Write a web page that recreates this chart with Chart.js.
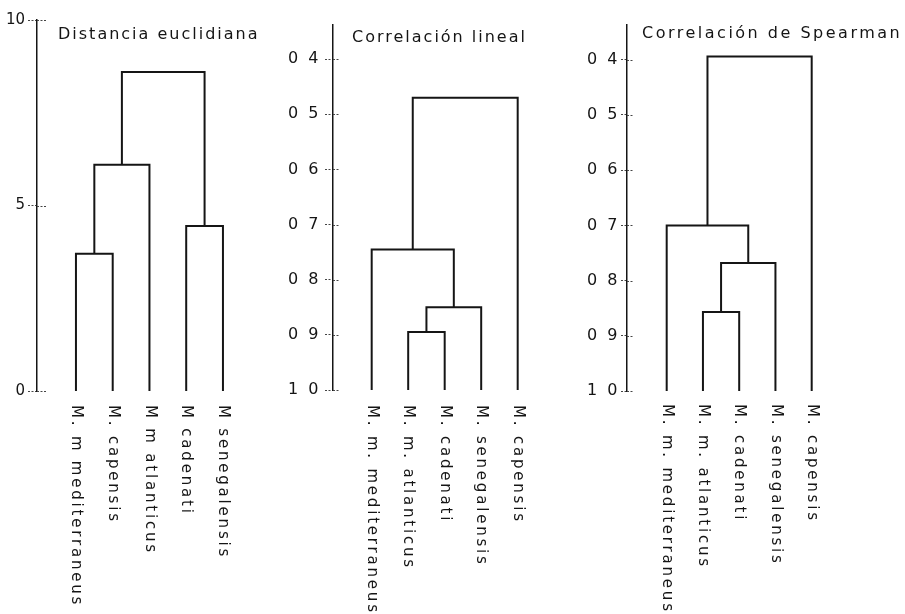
<!DOCTYPE html>
<html><head><meta charset="utf-8">
<script src="https://cdn.jsdelivr.net/npm/chart.js@4"></script>
<style>
html,body{margin:0;padding:0;background:#fff;}
#wrap{position:relative;width:905px;height:614px;overflow:hidden;background:#fff;}
#wrap canvas{position:absolute;left:0;top:0;}
</style></head><body>
<div id="wrap">
<canvas id="c1" width="905" height="614"></canvas>
<canvas id="c2" width="905" height="614"></canvas>
<canvas id="c3" width="905" height="614"></canvas>
</div>
<script>
// ---------------- data ----------------
const euclidTitle = "Distancia euclidiana";
const euclidLeaves = ["M. m mediterraneus", "M. capensis", "M m atlanticus", "M cadenati", "M senegalensis"];
const euclidMergeA = [0, 5, 3, 6];
const euclidMergeB = [1, 2, 4, 7];
const euclidHeights = [3.7, 6.1, 4.45, 8.6];
const euclidTickValues = [0, 5, 10];
const euclidTickLabels = ["0", "5", "10"];

const linealTitle = "Correlación lineal";
const linealLeaves = ["M. m. mediterraneus", "M. m. atlanticus", "M. cadenati", "M. senegalensis", "M. capensis"];
const linealMergeA = [1, 5, 0, 7];
const linealMergeB = [2, 3, 6, 4];
const linealHeights = [0.895, 0.85, 0.745, 0.47];

const spearmanTitle = "Correlación de Spearman";
const spearmanLeaves = ["M. m. mediterraneus", "M. m. atlanticus", "M. cadenati", "M. senegalensis", "M. capensis"];
const spearmanMergeA = [1, 5, 0, 7];
const spearmanMergeB = [2, 3, 6, 4];
const spearmanHeights = [0.857, 0.768, 0.70, 0.394];

const corrTickValues = [0.4, 0.5, 0.6, 0.7, 0.8, 0.9, 1.0];
const corrTickLabels = ["0 4", "0 5", "0 6", "0 7", "0 8", "0 9", "1 0"];

// ---------------- drawing ----------------
const INK = '#151515';
const FONT = "'DejaVu Sans', sans-serif";

function dendroDatasets(nLeaves, A, B, H, base) {
  const xs = [], hs = [];
  for (let i = 0; i < nLeaves; i++) { xs.push(i); hs.push(base); }
  const ds = [];
  for (let k = 0; k < A.length; k++) {
    const a = A[k], b = B[k], h = H[k];
    ds.push({
      data: [{x: xs[a], y: hs[a]}, {x: xs[a], y: h}, {x: xs[b], y: h}, {x: xs[b], y: hs[b]}],
      borderColor: INK, borderWidth: 2, pointRadius: 0, fill: false, tension: 0,
      borderCapStyle: 'butt', borderJoinStyle: 'miter'
    });
    xs.push((xs[a] + xs[b]) / 2); hs.push(h);
  }
  return ds;
}

const dendroPlugin = {
  id: 'dendro',
  beforeDraw(chart, args, o) {
    chart.ctx.letterSpacing = o.tickSpacing;
  },
  afterDraw(chart, args, o) {
    const ctx = chart.ctx, xs = chart.scales.x, ys = chart.scales.y;
    const ax = chart.chartArea.left;
    ctx.save();
    // right-hand part of the tick marks (they cross the axis)
    ctx.strokeStyle = '#444'; ctx.lineWidth = 1;
    ctx.setLineDash([2, 1.5]);
    ys.ticks.forEach(t => {
      const py = Math.round(ys.getPixelForValue(t.value)) + 0.5;
      ctx.beginPath(); ctx.moveTo(ax, py); ctx.lineTo(ax + o.tickRight, py); ctx.stroke();
    });
    ctx.setLineDash([]);
    // title
    ctx.fillStyle = INK;
    ctx.letterSpacing = o.titleSpacing;
    ctx.font = o.titleSize + 'px ' + FONT;
    ctx.textAlign = 'left'; ctx.textBaseline = 'middle';
    ctx.fillText(o.title, ax + o.titleDx, o.titleY);
    // leaf labels, rotated clockwise (reading downwards)
    ctx.letterSpacing = o.labelSpacing;
    ctx.font = o.labelSize + 'px ' + FONT;
    o.leaves.forEach((lab, i) => {
      const px = xs.getPixelForValue(i);
      ctx.save();
      ctx.translate(px, o.labelY);
      ctx.rotate(Math.PI / 2);
      ctx.fillText(lab, 0, 0);
      ctx.restore();
    });
    ctx.restore();
  }
};

function makeChart(id, p) {
  const right = p.axisX + (p.xmax - p.xmin) * p.sp;
  return new Chart(document.getElementById(id), {
    type: 'line',
    data: { datasets: dendroDatasets(p.leaves.length, p.A, p.B, p.H, p.base) },
    options: {
      responsive: false, animation: false, events: [],
      layout: { autoPadding: false, padding: { left: p.axisX - p.yw, right: 905 - right, top: p.top, bottom: 614 - p.bottom } },
      plugins: {
        legend: { display: false }, tooltip: { enabled: false }, title: { display: false },
        dendro: { title: p.title, leaves: p.leaves, titleDx: p.titleDx, titleY: p.titleY, titleSize: 16, titleSpacing: p.titleSpacing,
                  labelSize: 15, labelSpacing: '2.8px', labelY: p.labelY, tickRight: p.tickRight, tickSpacing: p.tickSpacing }
      },
      scales: {
        x: { type: 'linear', display: false, min: p.xmin, max: p.xmax },
        y: {
          type: 'linear', min: p.ymin, max: p.ymax, reverse: p.reverse,
          afterFit: s => { s.width = p.yw; },
          afterBuildTicks: s => { s.ticks = p.tickValues.map(v => ({ value: v })); },
          grid: { drawOnChartArea: false, drawTicks: true, tickLength: p.tickLen, tickColor: '#444', tickWidth: 1, tickBorderDash: [2, 1.5] },
          border: { display: true, color: INK, width: 1.5 },
          ticks: { callback: (v, i) => p.tickLabels[i], font: { family: FONT, size: p.tickSize }, color: INK, padding: p.tickPad }
        }
      }
    },
    plugins: [dendroPlugin]
  });
}

makeChart('c1', {
  title: euclidTitle, leaves: euclidLeaves, A: euclidMergeA, B: euclidMergeB, H: euclidHeights, base: 0,
  tickValues: euclidTickValues, tickLabels: euclidTickLabels,
  axisX: 37, yw: 37, top: 20, bottom: 391, ymin: 0, ymax: 10, reverse: false,
  xmin: -1.06, xmax: 5.2, sp: 36.75, titleDx: 21, titleY: 35, titleSpacing: '2px', labelY: 405,
  tickSize: 15, tickPad: 3, tickLen: 9, tickRight: 9, tickSpacing: '0px'
});
makeChart('c2', {
  title: linealTitle, leaves: linealLeaves, A: linealMergeA, B: linealMergeB, H: linealHeights, base: 1.0,
  tickValues: corrTickValues, tickLabels: corrTickLabels,
  axisX: 333, yw: 45, top: 25, bottom: 390, ymin: 0.338, ymax: 1.0, reverse: true,
  xmin: -1.06, xmax: 5.2, sp: 36.5, titleDx: 19, titleY: 38, titleSpacing: '2px', labelY: 405,
  tickSize: 16, tickPad: 4, tickLen: 8, tickRight: 7, tickSpacing: '2.5px'
});
makeChart('c3', {
  title: spearmanTitle, leaves: spearmanLeaves, A: spearmanMergeA, B: spearmanMergeB, H: spearmanHeights, base: 1.0,
  tickValues: corrTickValues, tickLabels: corrTickLabels,
  axisX: 627, yw: 45, top: 25, bottom: 391, ymin: 0.337, ymax: 1.0, reverse: true,
  xmin: -1.095, xmax: 5.0, sp: 36.25, titleDx: 15, titleY: 34, titleSpacing: '2.5px', labelY: 404,
  tickSize: 16, tickPad: 1, tickLen: 6, tickRight: 6, tickSpacing: '2.5px'
});
</script>
</body></html>
